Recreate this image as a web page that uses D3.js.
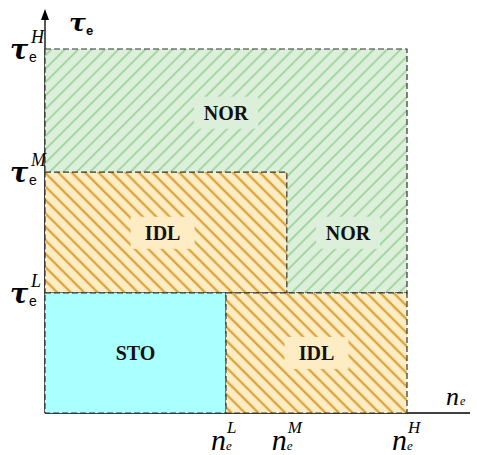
<!DOCTYPE html>
<html><head><meta charset="utf-8">
<script src="https://d3js.org/d3.v7.min.js"></script>
<style>body{margin:0;background:#fff}</style>
</head><body>
<script>
// thresholds (normalized)
const nLevels = [{k:"L", v:0.5}, {k:"M", v:0.668}, {k:"H", v:1.0}];
const tauLevels = [{k:"L", v:0.33}, {k:"M", v:0.662}, {k:"H", v:1.0}];
// regions: [x0,x1] in n, [y0,y1] in tau
const regionNames = ["NOR", "IDL", "STO", "IDL"];
const regionX = [[0, 1.0], [0, 0.668], [0, 0.5], [0.5, 1.0]];
const regionY = [[0.33, 1.0], [0.33, 0.662], [0, 0.33], [0, 0.33]];
const regionKind = ["nor", "idl", "sto", "idl"];
// labels: text + center in data coords
const labelText = ["NOR", "IDL", "NOR", "STO", "IDL"];
const labelN = [0.5, 0.325, 0.837, 0.25, 0.75];
const labelTau = [0.825, 0.495, 0.495, 0.165, 0.165];
const labelKind = ["nor", "idl", "nor", "sto", "idl"];

const W = 477, H = 455;
const svg = d3.select("body").append("svg").attr("width", W).attr("height", H);
const x = d3.scaleLinear().domain([0, 1]).range([45, 407]);
const y = d3.scaleLinear().domain([0, 1]).range([413, 49]);

const defs = svg.append("defs");
function hatch(id, bg, line, angle, sp, lw) {
  const p = defs.append("pattern").attr("id", id).attr("patternUnits", "userSpaceOnUse")
    .attr("width", sp).attr("height", sp).attr("patternTransform", `rotate(${angle})`);
  p.append("rect").attr("width", sp).attr("height", sp).attr("fill", bg);
  p.append("line").attr("x1", sp/2).attr("x2", sp/2).attr("y1", -1).attr("y2", sp+1)
    .attr("stroke", line).attr("stroke-width", lw);
}
hatch("hnor", "#dcefdb", "#a3d8a0", 45, 9.5, 2);
hatch("hidl", "#fdecc4", "#dba53a", -45, 9.5, 2.3);
const fills = {nor: "url(#hnor)", idl: "url(#hidl)", sto: "#aaffff"};
const boxFill = {nor: "#dcefdb", idl: "#fdecc4", sto: "#aaffff"};

// axes
const ax = svg.append("g");
ax.append("line").attr("x1", x(0)).attr("x2", 470).attr("y1", y(0)).attr("y2", y(0))
  .attr("stroke", "#000").attr("stroke-width", 1.3);
ax.append("line").attr("x1", x(0)).attr("x2", x(0)).attr("y1", y(0)).attr("y2", 16)
  .attr("stroke", "#000").attr("stroke-width", 1.3);
ax.append("path").attr("d", `M${x(0)},9 L${x(0)-4},20 L${x(0)+4},20 Z`).attr("fill", "#000");

// regions
svg.append("g").selectAll("rect").data(regionNames).join("rect")
  .attr("x", (d, i) => x(regionX[i][0]))
  .attr("y", (d, i) => y(regionY[i][1]))
  .attr("width", (d, i) => x(regionX[i][1]) - x(regionX[i][0]))
  .attr("height", (d, i) => y(regionY[i][0]) - y(regionY[i][1]))
  .attr("fill", (d, i) => fills[regionKind[i]])
  .attr("stroke", "#333").attr("stroke-width", 1.2).attr("stroke-dasharray", "6,3");

// region labels
const lg = svg.append("g").selectAll("g").data(labelText).join("g")
  .attr("transform", (d, i) => `translate(${x(labelN[i])},${y(labelTau[i])})`);
lg.append("rect").attr("x", -32).attr("y", -16).attr("width", 64).attr("height", 32)
  .attr("fill", (d, i) => boxFill[labelKind[i]]);
lg.append("text").text(d => d).attr("text-anchor", "middle").attr("dy", "0.36em")
  .attr("font-family", "Liberation Serif, serif").attr("font-weight", "bold")
  .attr("font-size", 20).attr("fill", "#111");

// x tick labels
const xt = svg.append("g").selectAll("g").data(nLevels).join("g")
  .attr("transform", d => `translate(${x(d.v)},0)`);
xt.append("text").text("n").attr("x", -15).attr("y", 450)
  .attr("font-family", "Liberation Serif, serif").attr("font-style", "italic").attr("font-size", 30);
xt.append("text").text("e").attr("x", 0).attr("y", 450)
  .attr("font-family", "Liberation Serif, serif").attr("font-style", "italic").attr("font-size", 13);
xt.append("text").text(d => d.k).attr("x", 1).attr("y", 433)
  .attr("font-family", "Liberation Serif, serif").attr("font-style", "italic").attr("font-size", 17);

// y tick labels
const yt = svg.append("g").selectAll("g").data(tauLevels).join("g")
  .attr("transform", d => `translate(0,${y(d.v)})`);
yt.append("text").text("τ").attr("x", 10).attr("y", 10)
  .attr("font-family", "DejaVu Serif, serif").attr("font-style", "italic").attr("font-weight", "bold").attr("font-size", 27);
yt.append("text").text("e").attr("x", 29).attr("y", 13)
  .attr("font-family", "Liberation Sans, sans-serif").attr("font-size", 14);
yt.append("text").text(d => d.k).attr("x", 31).attr("y", -6)
  .attr("font-family", "Liberation Serif, serif").attr("font-style", "italic").attr("font-size", 18);

// axis titles
const at = svg.append("g");
at.append("text").text("τ").attr("x", 69).attr("y", 31)
  .attr("font-family", "DejaVu Serif, serif").attr("font-style", "italic").attr("font-weight", "bold").attr("font-size", 25);
at.append("text").text("e").attr("x", 86).attr("y", 35)
  .attr("font-family", "Liberation Sans, sans-serif").attr("font-weight", "bold").attr("font-size", 13);
at.append("text").text("n").attr("x", 446).attr("y", 405)
  .attr("font-family", "Liberation Serif, serif").attr("font-style", "italic").attr("font-size", 26);
at.append("text").text("e").attr("x", 460).attr("y", 405)
  .attr("font-family", "Liberation Serif, serif").attr("font-style", "italic").attr("font-size", 12);
</script>
</body></html>
